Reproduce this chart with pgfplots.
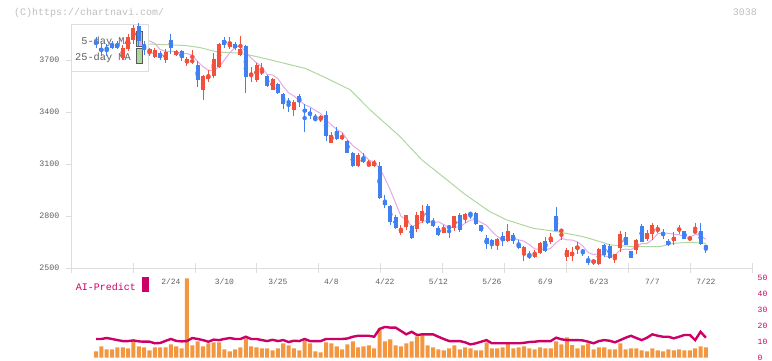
\documentclass[border=0pt]{standalone}
\usepackage{fontspec}
\setmainfont{Liberation Sans}
\setmonofont{Liberation Mono}
\usepackage{pgfplots}
\usepackage{pgfplotstable}
\pgfplotsset{compat=1.18}
\definecolor{cRed}{RGB}{240,80,60}
\definecolor{cBlue}{RGB}{64,128,240}
\definecolor{cPink}{RGB}{228,170,232}
\definecolor{cGreen}{RGB}{176,214,160}
\definecolor{cOrange}{RGB}{242,150,64}
\definecolor{cMag}{RGB}{204,0,102}
\definecolor{cAxis}{RGB}{221,221,221}
\definecolor{cLab}{RGB}{95,95,95}
\definecolor{cCopy}{RGB}{190,190,190}
\newcommand{\mf}[1]{\ttfamily\fontsize{#1bp}{#1bp}\selectfont}
\pgfplotsset{
 wick/.style={only marks, mark=none, forget plot, error bars/.cd, y dir=both, y explicit, error mark=none, error bar style={line width=1bp}},
 body/.style={only marks, mark=none, forget plot, error bars/.cd, y dir=both, y explicit, error mark=none, error bar style={line width=4bp}},
}
\pgfplotstableread{
i o h l c
5 3712 3785 3700 3770
6 3764 3846 3750 3829
7 3815 3900 3790 3885
10 3740 3767 3719 3763
11 3717 3767 3710 3758
13 3700 3760 3680 3742
15 3729 3755 3720 3748
17 3681 3715 3665 3704
18 3686 3758 3675 3698
20 3527 3610 3470 3604
21 3590 3640 3570 3608
22 3604 3740 3595 3706
23 3660 3795 3655 3792
25 3771 3830 3760 3802
27 3729 3838 3720 3763
29 3604 3660 3570 3619
30 3585 3680 3570 3671
31 3623 3680 3610 3638
33 3527 3595 3525 3589
37 3412 3470 3373 3459
42 3358 3380 3340 3373
44 3223 3285 3220 3267
46 3242 3275 3235 3263
49 3085 3160 3080 3152
51 3090 3125 3085 3100
52 3090 3125 3082 3112
57 2704 2750 2690 2725
58 2738 2808 2720 2806
60 2725 2825 2710 2806
61 2773 2862 2760 2829
65 2704 2750 2700 2729
67 2729 2802 2715 2800
69 2787 2815 2760 2812
75 2633 2670 2605 2667
77 2658 2754 2650 2715
80 2594 2625 2540 2623
82 2562 2605 2560 2588
83 2585 2650 2580 2646
85 2652 2700 2640 2675
87 2713 2722 2660 2717
88 2562 2615 2540 2604
89 2569 2620 2540 2594
90 2610 2650 2580 2627
93 2531 2550 2520 2546
94 2521 2615 2518 2610
97 2556 2583 2530 2581
98 2613 2715 2590 2696
101 2604 2665 2580 2662
103 2667 2720 2655 2700
104 2694 2762 2662 2748
105 2714 2750 2700 2725
108 2656 2705 2630 2681
109 2714 2750 2695 2729
111 2665 2685 2655 2675
112 2700 2758 2695 2719
}\upT
\pgfplotstableread{
i o h l c
0 3800 3830 3770 3792
1 3765 3790 3725 3748
2 3770 3790 3720 3758
3 3792 3810 3760 3770
4 3792 3810 3760 3770
8 3892 3912 3777 3806
9 3792 3806 3729 3758
12 3740 3750 3700 3712
14 3815 3850 3735 3770
16 3748 3758 3690 3712
19 3671 3690 3540 3581
24 3815 3830 3770 3787
26 3792 3800 3755 3765
28 3777 3785 3511 3598
32 3604 3610 3540 3546
34 3561 3565 3505 3511
35 3502 3510 3415 3446
36 3458 3480 3400 3452
38 3492 3500 3430 3454
39 3417 3446 3281 3396
40 3396 3420 3360 3379
41 3365 3390 3345 3350
43 3383 3406 3230 3258
45 3290 3315 3240 3244
47 3233 3235 3160 3165
48 3162 3170 3080 3085
50 3135 3160 3105 3108
53 3088 3110 2900 2902
54 2883 2920 2845 2863
55 2858 2862 2750 2767
56 2796 2805 2725 2733
59 2744 2750 2665 2671
62 2858 2870 2755 2762
63 2767 2790 2738 2742
64 2733 2742 2685 2690
66 2738 2750 2675 2733
68 2806 2818 2705 2719
70 2815 2825 2780 2810
71 2819 2820 2748 2754
72 2748 2750 2705 2715
73 2675 2690 2610 2637
74 2662 2665 2610 2637
76 2686 2705 2625 2658
78 2690 2700 2640 2658
79 2638 2660 2612 2617
81 2575 2600 2550 2562
84 2656 2680 2590 2600
86 2800 2850 2713 2715
91 2602 2610 2570 2590
92 2552 2570 2520 2531
95 2633 2640 2565 2575
96 2629 2640 2550 2560
99 2681 2705 2630 2633
100 2598 2600 2555 2560
102 2742 2752 2650 2652
106 2704 2725 2665 2690
107 2656 2665 2625 2633
110 2714 2716 2665 2667
113 2714 2762 2633 2637
114 2627 2635 2588 2617
}\downT
\begin{document}
\begin{tikzpicture}
\path[use as bounding box] (0,0) rectangle (772bp,361bp);
\node[anchor=base west, inner sep=0pt, text=cCopy, font=\mf{10}] at (14bp,345.5bp) {(C)https://chartnavi.com/};
\node[anchor=base east, inner sep=0pt, text=cCopy, font=\mf{10}] at (757bp,345.5bp) {3038};
\node[anchor=base west, inner sep=0pt, text=cMag, font=\mf{10}] at (75.7bp,70.5bp) {AI-Predict};
\fill[cMag] (142.3bp,68.7bp) rectangle (149bp,83.7bp);

\begin{axis}[at={(70.7bp,93bp)}, anchor=south west, width=681.3bp, height=243.7bp, scale only axis,
 xmin=-4.73, xmax=122.62, ymin=2500, ymax=3904, clip=false,
 axis lines*=left, axis line style={draw=cAxis, -},
 ytick={2500,2800,3100,3400,3700}, yticklabels={2500,2800,3100,3400,3700},
 ytick style={draw=cAxis}, major tick length=5bp, tick align=outside,
 yticklabel style={font=\mf{8.3}, text=cLab, anchor=east, inner sep=0pt, xshift=-6.2bp},
 xtick={14,24,34,44,54,64,74,84,94,104,114},
 xticklabels={2/24,3/10,3/25,4/8,4/22,5/12,5/26,6/9,6/23,7/7,7/22},
 xtick style={draw=none},
 xticklabel style={font=\mf{8}, text=cLab, anchor=base, inner sep=0pt, yshift=-12bp},
 extra x ticks={-4.73,6.85,18.43,30.00,41.58,53.16,64.74,76.32,87.89,99.47,111.05,122.62},
 extra x tick labels={},
 extra x tick style={xtick style={draw=cAxis}, major tick length=10bp, tick align=center},
 scaled y ticks=false]
\addplot[cGreen, line width=1bp, mark=none] coordinates {(4,3800) (10.1,3790) (16.6,3782) (19.4,3770) (22.8,3744) (26.9,3738) (29.7,3720) (32.5,3700) (36.3,3671) (39.1,3650) (42.4,3604) (47.5,3527) (51.2,3412) (56.8,3258) (60.9,3123) (65.6,3008) (68.6,2933) (71.8,2863) (73.6,2825) (75.5,2796) (76.75,2777) (81.7,2729) (86.1,2710) (91,2681) (94.2,2652) (96.1,2633) (100.4,2623) (105.4,2623) (107.9,2642) (111,2648) (114,2642)};
\addplot[cPink, line width=1bp, mark=none] coordinates {(4,3768) (5,3763) (6,3779) (7,3805) (8,3812) (9,3810) (10,3808) (11,3794) (12,3759) (13,3747) (14,3749) (15,3746) (16,3737) (17,3735) (18,3726) (19,3689) (20,3660) (21,3639) (22,3639) (23,3658) (24,3699) (25,3739) (26,3770) (27,3782) (28,3743) (29,3709) (30,3683) (31,3658) (32,3614) (33,3613) (34,3591) (35,3546) (36,3509) (37,3491) (38,3464) (39,3441) (40,3428) (41,3408) (42,3390) (43,3351) (44,3325) (45,3298) (46,3281) (47,3239) (48,3205) (49,3182) (50,3155) (51,3122) (52,3111) (53,3075) (54,3017) (55,2949) (56,2875) (57,2798) (58,2779) (59,2740) (60,2748) (61,2767) (62,2775) (63,2762) (64,2766) (65,2750) (66,2731) (67,2739) (68,2734) (69,2759) (70,2775) (71,2779) (72,2762) (73,2746) (74,2711) (75,2682) (76,2663) (77,2663) (78,2667) (79,2663) (80,2654) (81,2635) (82,2610) (83,2607) (84,2604) (85,2614) (86,2645) (87,2671) (88,2662) (89,2661) (90,2651) (91,2626) (92,2589) (93,2578) (94,2581) (95,2570) (96,2564) (97,2574) (98,2604) (99,2609) (100,2606) (101,2626) (102,2641) (103,2641) (104,2664) (105,2697) (106,2703) (107,2699) (108,2695) (109,2692) (110,2680) (111,2677) (112,2694) (113,2687) (114,2665)};
% legend box
\draw[cAxis, fill=white] (axis cs:-4.73,3635) rectangle (axis cs:9.72,3904);
\node[anchor=base east, inner sep=0pt, text=cLab, font=\mf{10.3}] at (axis cs:6.54,3789) {5-day MA};
\node[anchor=base east, inner sep=0pt, text=cLab, font=\mf{10.3}] at (axis cs:6.54,3694) {25-day MA};
\draw[black!65, fill=cPink] (axis cs:7.48,3775) rectangle (axis cs:8.65,3865);
\draw[black!65, fill=cGreen] (axis cs:7.48,3679) rectangle (axis cs:8.65,3769);
% candles
\addplot[cRed, wick] table[x=i, y expr={(\thisrow{h}+\thisrow{l})/2}, y error expr={(\thisrow{h}-\thisrow{l})/2}] {\upT};
\addplot[cBlue, wick] table[x=i, y expr={(\thisrow{h}+\thisrow{l})/2}, y error expr={(\thisrow{h}-\thisrow{l})/2}] {\downT};
\addplot[cRed, body] table[x=i, y expr={(\thisrow{o}+\thisrow{c})/2}, y error expr={max(abs(\thisrow{c}-\thisrow{o})/2,3)}] {\upT};
\addplot[cBlue, body] table[x=i, y expr={(\thisrow{o}+\thisrow{c})/2}, y error expr={max(abs(\thisrow{c}-\thisrow{o})/2,3)}] {\downT};
\end{axis}

\begin{axis}[at={(70.7bp,3.3bp)}, anchor=south west, width=681.3bp, height=80bp, scale only axis,
 xmin=-4.73, xmax=122.62, ymin=0, ymax=50, clip=false,
 hide x axis, axis y line*=right, y axis line style={draw=none},
 ytick={0,10,20,30,40,50}, yticklabels={0,10,20,30,40,50}, ytick style={draw=none}, major tick length=0pt,
 yticklabel style={font=\mf{8}, text=cMag, anchor=west, inner sep=0pt, xshift=5.5bp}]
\addplot[ybar, bar width=0.75, bar shift=0pt, fill=cOrange, draw=none] coordinates {(0,3.9)(1,7.1)(2,5.2)(3,5.2)(4,6.4)(5,6.4)(6,5.8)(7,10.2)(8,7.1)(9,6.4)(10,4.6)(11,6.4)(12,6.4)(13,6.4)(14,8.3)(15,7.1)(16,5.8)(17,49.6)(18,7.7)(19,10.2)(20,7.1)(21,8.9)(22,9.6)(23,9.6)(24,5.2)(25,3.9)(26,5.2)(27,6.4)(28,12.1)(29,7.1)(30,6.4)(31,5.8)(32,5.8)(33,4.6)(34,5.8)(35,8.9)(36,7.7)(37,5.8)(38,4.6)(39,10.8)(40,8.9)(41,3.9)(42,3.3)(43,9.6)(44,8.9)(45,7.1)(46,5.2)(47,8.3)(48,10.2)(49,6.4)(50,7.1)(51,7.7)(52,5.8)(53,18.3)(54,10.2)(55,11.4)(56,7.7)(57,7.1)(58,8.9)(59,10.2)(60,13.3)(61,13.9)(62,7.7)(63,6.4)(64,5.2)(65,4.6)(66,5.8)(67,7.7)(68,5.2)(69,6.4)(70,5.8)(71,4.6)(72,4.6)(73,9.6)(74,5.8)(75,5.8)(76,6.4)(77,8.9)(78,5.8)(79,6.4)(80,7.1)(81,5.8)(82,5.2)(83,6.4)(84,5.8)(85,5.8)(86,10.2)(87,8.3)(88,12.7)(89,7.9)(90,5.8)(91,7.7)(92,8.9)(93,5.2)(94,6.4)(95,6.4)(96,5.2)(97,5.2)(98,8.9)(99,5.2)(100,5.8)(101,5.8)(102,4.6)(103,3.9)(104,5.8)(105,4.6)(106,3.9)(107,5.2)(108,4.6)(109,5.2)(110,4.6)(111,4.6)(112,5.8)(113,7.1)(114,6.4)};
\addplot[cMag, line width=2.4bp, mark=none] coordinates {(0,11.7)(1,11.7)(2,12.3)(3,11.7)(4,11.0)(5,10.4)(6,10.4)(7,10.8)(8,10.2)(9,10.0)(10,10.0)(11,9.0)(12,9.2)(13,10.5)(14,11.7)(15,10.5)(16,10.2)(17,10.4)(18,12.3)(19,11.7)(20,11.0)(21,10.0)(22,11.3)(23,11.0)(24,11.7)(25,12.3)(26,11.7)(27,11.7)(28,13.1)(29,11.7)(30,11.7)(31,11.0)(32,10.4)(33,11.2)(34,10.4)(35,11.0)(36,9.8)(37,10.6)(38,10.4)(39,11.7)(40,10.4)(41,10.4)(42,10.4)(43,11.7)(44,11.7)(45,11.7)(46,11.7)(47,12.0)(48,13.1)(49,13.7)(50,13.7)(51,13.7)(52,13.1)(53,18.0)(54,19.2)(55,18.8)(56,18.8)(57,16.7)(58,14.6)(59,16.2)(60,14.2)(61,14.6)(62,14.6)(63,14.6)(64,13.1)(65,11.7)(66,10.4)(67,10.4)(68,10.4)(69,9.6)(70,8.3)(71,9.0)(72,10.0)(73,11.0)(74,9.0)(75,9.0)(76,9.0)(77,9.0)(78,9.0)(79,9.0)(80,9.3)(81,9.8)(82,10.0)(83,10.4)(84,10.4)(85,10.4)(86,12.5)(87,11.5)(88,11.0)(89,11.0)(90,11.0)(91,10.8)(92,10.0)(93,9.0)(94,10.4)(95,11.0)(96,10.6)(97,9.6)(98,11.0)(99,12.5)(100,13.7)(101,12.3)(102,11.0)(103,12.5)(104,14.6)(105,13.7)(106,13.1)(107,13.1)(108,12.1)(109,13.1)(110,14.2)(111,14.2)(112,11.0)(113,16.2)(114,12.5)};
\end{axis}
\end{tikzpicture}
\end{document}
